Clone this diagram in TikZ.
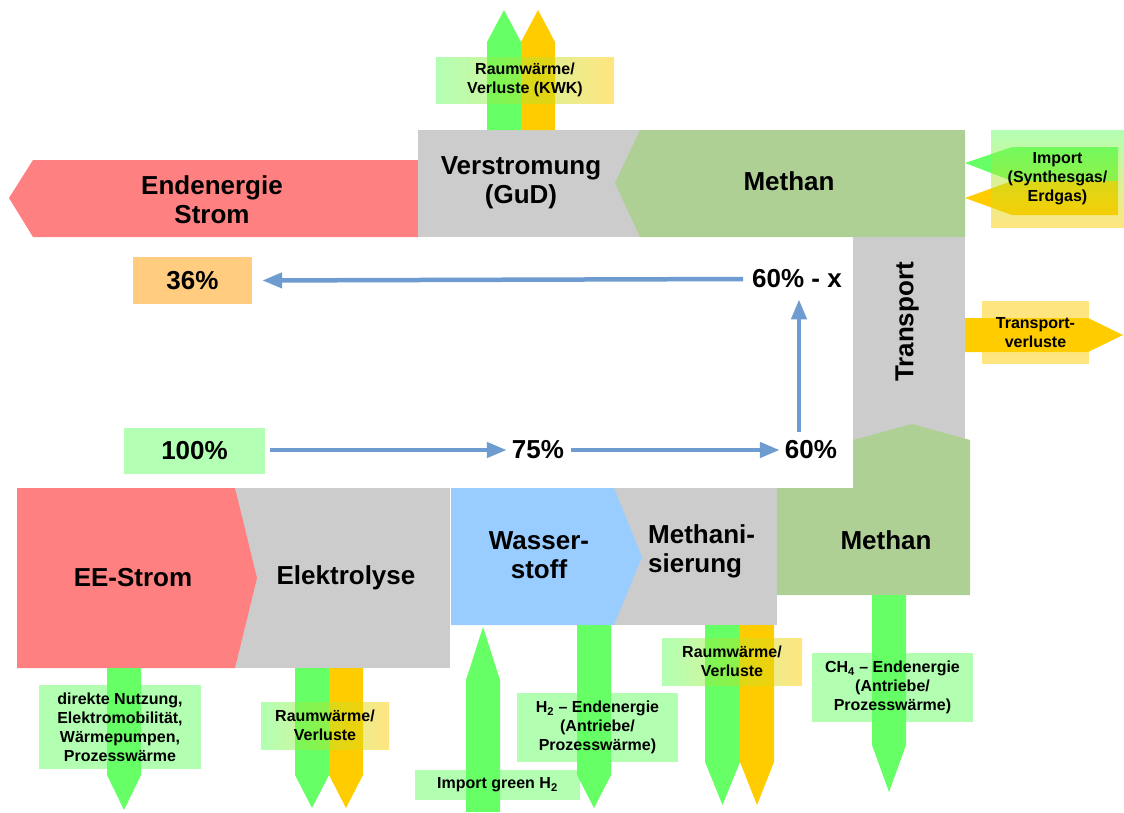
\documentclass[tikz,border=0pt]{standalone}
\usepackage{fontspec}
\setmainfont{Liberation Sans}
\usetikzlibrary{arrows.meta}
\definecolor{cred}{HTML}{FF8080}
\definecolor{cgray}{HTML}{CCCCCC}
\definecolor{cmeth}{HTML}{AFD095}
\definecolor{cblue}{HTML}{99CCFF}
\definecolor{cgr}{HTML}{66FF66}
\definecolor{cor}{HTML}{FFCC00}
\definecolor{cpale}{HTML}{B3FFB3}
\definecolor{corange}{HTML}{FFCC80}
\definecolor{cline}{HTML}{6E9BD0}
\newcommand\flowarr[6]{\fill[#6] (#1,#3) -- (#2,#3) -- (#2,#4) -- ({(#1+#2)/2},#5) -- (#1,#4) -- cycle;}
\tikzset{
  big/.style={font=\fontsize{26}{29}\selectfont\bfseries, align=center, inner sep=0pt},
  small/.style={font=\fontsize{16}{19}\selectfont\bfseries, align=center},
  pct/.style={font=\fontsize{26}{29}\selectfont\bfseries, inner sep=5pt},
  lblbox/.style={small, fill opacity=0.5, text opacity=1, inner sep=0pt},
  flow/.style={draw=cline, line width=4.5pt, -{Triangle[length=20pt,width=15pt]}}
}
\begin{document}
\begin{tikzpicture}[x=1pt,y=-1pt]
\useasboundingbox (0,0) rectangle (1124,812);
% ---------- top band ----------
\fill[cred] (418,160) -- (33,160) -- (9,198) -- (33,237) -- (418,237) -- cycle;
\fill[cgray] (418,130) rectangle (641,237);
\fill[cmeth] (640,130) -- (965,130) -- (965,237) -- (640,237) -- (615,183) -- cycle;
\fill[cgray] (853,237) rectangle (965,440);
% ---------- bottom band ----------
\fill[cgray] (235,488) rectangle (450,668);
\fill[cred] (17,488) -- (235,488) -- (257,578) -- (235,668) -- (17,668) -- cycle;
\fill[cgray] (612,488) rectangle (777,625);
\fill[cblue] (451,488) -- (614,488) -- (642,557) -- (614,625) -- (451,625) -- cycle;
\fill[cmeth] (777,488) -- (853,488) -- (853,440) -- (912,424) -- (970,440) -- (970,595) -- (777,595) -- cycle;
% ---------- flow arrows ----------
\flowarr{487}{521}{130}{42}{10}{cgr}
\flowarr{521}{555}{130}{42}{10}{cor}
\fill[cgr] (1118,147) -- (1012,147) -- (965,163) -- (1012,181) -- (1118,181) -- cycle;
\fill[cor] (1118,181) -- (1012,181) -- (965,198) -- (1012,215) -- (1118,215) -- cycle;
\fill[cor] (965,318) -- (1088,318) -- (1123,335) -- (1088,352) -- (965,352) -- cycle;
\flowarr{107}{141}{668}{775}{810}{cgr}
\flowarr{295}{329}{668}{775}{808}{cgr}
\flowarr{329}{363}{668}{775}{808}{cor}
\flowarr{466}{500}{812}{680}{627}{cgr}
\flowarr{577}{611}{625}{775}{808}{cgr}
\flowarr{705}{740}{625}{762}{805}{cgr}
\flowarr{740}{774}{625}{762}{805}{cor}
\flowarr{872}{906}{595}{745}{792}{cgr}
% ---------- label boxes ----------
\node[lblbox, left color=cgr, right color=cor, minimum width=178pt, minimum height=46pt] (kwk) at (525,80) {Raumwärme/\\Verluste (KWK)};
\node[lblbox, top color=cgr, bottom color=cor, minimum width=133pt, minimum height=97pt] (imp) at (1057.5,178.5) {Import\\(Synthesgas/\\Erdgas)};
\node[lblbox, fill=cor, minimum width=107pt, minimum height=63pt] (tverl) at (1035.5,332.5) {Transport-\\verluste};
\node[lblbox, fill=cgr, minimum width=162pt, minimum height=84pt] (direkt) at (120,727) {direkte Nutzung,\\Elektromobilität,\\Wärmepumpen,\\Prozesswärme};
\node[lblbox, left color=cgr, right color=cor, minimum width=128pt, minimum height=47pt] (rw1) at (325,725.5) {Raumwärme/\\Verluste};
\node[lblbox, left color=cgr, right color=cor, minimum width=140pt, minimum height=47pt] (rw2) at (732,661.5) {Raumwärme/\\Verluste};
\node[lblbox, fill=cgr, minimum width=161pt, minimum height=69pt] (h2e) at (597.5,727.5) {H\textsubscript{2} – Endenergie\\(Antriebe/\\Prozesswärme)};
\node[lblbox, fill=cgr, minimum width=161pt, minimum height=69pt] (ch4e) at (892.5,687.5) {CH\textsubscript{4} – Endenergie\\(Antriebe/\\Prozesswärme)};
\node[lblbox, fill=cgr, minimum width=165pt, minimum height=30pt] (imph2) at (497.5,785) {Import green H\textsubscript{2}};
% ---------- main labels ----------
\node[big] (endstrom) at (212,200) {Endenergie\\Strom};
\node[big] (verstr) at (521,183) {Verstromung\\(GuD)};
\node[big] (methtop) at (789,181) {Methan};
\node[big, rotate=90] (transp) at (907,322) {Transport};
\node[big] (ee) at (133,578) {EE-Strom};
\node[big] (elek) at (346,578) {Elektrolyse};
\node[big] (wst) at (539,555) {Wasser-\\stoff};
\node[big, align=left, anchor=west] (methani) at (648,551) {Methani-\\sierung};
\node[big] (methbot) at (886,540) {Methan};
% ---------- percentages ----------
\node[pct, fill=corange, minimum width=119pt, minimum height=47pt] (p36) at (192.5,280.5) {36\%};
\node[pct, fill=cpale, minimum width=141pt, minimum height=46pt] (p100) at (194.5,451) {100\%};
\node[pct] (p75) at (538,450) {75\%};
\node[pct] (p60) at (811,450) {60\%};
\node[pct] (p60x) at (797,279) {60\% - x};
\draw[flow, shorten <=5pt] (p100.east |- p75.west) -- (p75.west);
\draw[flow, shorten <=2pt] (p75.east) -- (p60.west);
\draw[flow, shorten <=4pt, shorten >=6pt] ([xshift=2pt]p60.north -| p60x.south) -- ([xshift=2pt]p60x.south);
\draw[flow, shorten <=4pt, shorten >=10pt] (p60x.west) -- (p36.east);
\end{tikzpicture}
\end{document}
